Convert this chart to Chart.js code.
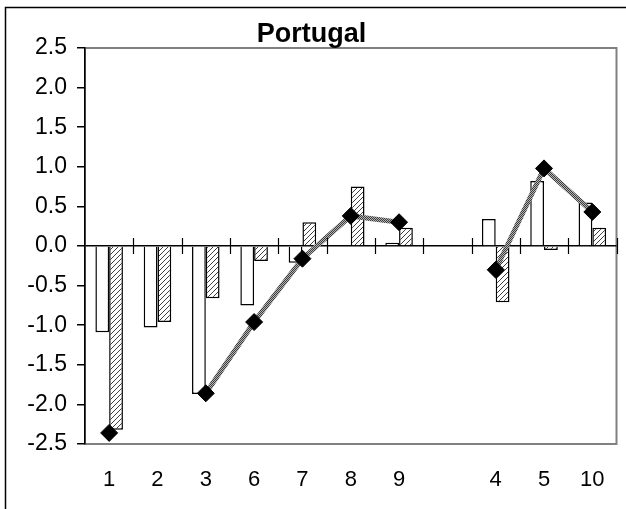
<!DOCTYPE html>
<html>
<head>
<meta charset="utf-8">
<title>Portugal</title>
<script src="https://cdn.jsdelivr.net/npm/chart.js@4.4.0/dist/chart.umd.min.js"></script>
<style>
  body { margin: 0; background: #fff; overflow: hidden; }
  #grafico { display: block; }
</style>
</head>
<body>
<canvas id="grafico" width="626" height="509"></canvas>
<script>
// dados (categoria vazia = espaço entre os grupos)
var categorias = ['1', '2', '3', '6', '7', '8', '9', '', '4', '5', '10'];
var serieBranca = [-1.09, -1.03, -1.87, -0.75, -0.21, null, 0.04, null, 0.34, 0.82, 0.55];
var serieTracejada = [-2.32, -0.96, -0.66, -0.19, 0.30, 0.75, 0.23, null, -0.71, -0.05, 0.23];
var serieLinha = [-2.36, null, -1.86, -0.96, -0.16, 0.38, 0.30, null, -0.30, 0.98, 0.43];
var eixoMin = -2.5;
var eixoMax = 2.5;
var eixoPasso = 0.5;

function padraoTracejado() {
    var c = document.createElement('canvas');
    c.width = 5;
    c.height = 5;
    var g = c.getContext('2d');
    g.fillStyle = '#fff';
    g.fillRect(0, 0, 5, 5);
    g.strokeStyle = '#404040';
    g.lineWidth = 1;
    g.beginPath();
    g.moveTo(0, 5); g.lineTo(5, 0);
    g.moveTo(-1, 1); g.lineTo(1, -1);
    g.moveTo(4, 6); g.lineTo(6, 4);
    g.stroke();
    return g.createPattern(c, 'repeat');
}

function padraoLinha() {
    var c = document.createElement('canvas');
    c.width = 2;
    c.height = 2;
    var g = c.getContext('2d');
    g.fillStyle = '#b4b4b4';
    g.fillRect(0, 0, 2, 2);
    g.fillStyle = '#3c3c3c';
    g.fillRect(0, 0, 1, 1);
    g.fillRect(1, 1, 1, 1);
    return g.createPattern(c, 'repeat');
}

// moldura externa, borda da área do gráfico e tiques do eixo x no zero
var moldura = {
    id: 'moldura',
    beforeDraw: function(chart) {
        var ctx = chart.ctx, a = chart.chartArea;
        ctx.save();
        ctx.fillStyle = '#fff';
        ctx.fillRect(0, 0, chart.width, chart.height);
        ctx.strokeStyle = '#000';
        ctx.lineWidth = 1.5;
        ctx.strokeRect(5.5, 7.5, chart.width + 40, chart.height + 40);
        ctx.strokeStyle = '#808080';
        ctx.lineWidth = 2;
        ctx.strokeRect(a.left, a.top, a.right - a.left, a.bottom - a.top);
        ctx.restore();
    },
    afterDatasetsDraw: function(chart) {
        var ctx = chart.ctx, x = chart.scales.x, y = chart.scales.y;
        var y0 = y.getPixelForValue(0);
        var passo = (x.right - x.left) / categorias.length;
        ctx.save();
        ctx.strokeStyle = '#000';
        ctx.lineWidth = 1.2;
        ctx.beginPath();
        for (var i = 0; i < categorias.length; i++) {
            var px = Math.round(x.getPixelForValue(i) + passo / 2) + 0.5;
            ctx.moveTo(px, y0 - 8);
            ctx.lineTo(px, y0 + 8);
        }
        ctx.stroke();
        ctx.restore();
    }
};

var ctx = document.getElementById('grafico').getContext('2d');
var grafico = new Chart(ctx, {
    data: {
        labels: categorias,
        datasets: [{
            type: 'line',
            data: serieLinha,
            order: 0,
            borderColor: padraoLinha(),
            borderWidth: 5,
            spanGaps: false,
            tension: 0,
            pointStyle: 'rectRot',
            pointRadius: 8.5,
            pointBackgroundColor: '#000',
            pointBorderColor: '#000',
            pointBorderWidth: 1
        }, {
            type: 'bar',
            data: serieBranca,
            order: 1,
            backgroundColor: '#fff',
            borderColor: '#000',
            borderWidth: 1.5,
            categoryPercentage: 0.57,
            barPercentage: 1
        }, {
            type: 'bar',
            data: serieTracejada,
            order: 1,
            backgroundColor: padraoTracejado(),
            borderColor: '#000',
            borderWidth: 1.5,
            categoryPercentage: 0.57,
            barPercentage: 1
        }]
    },
    plugins: [moldura],
    options: {
        responsive: false,
        animation: false,
        layout: { padding: { top: 0, right: 3, bottom: 0, left: 0 } },
        plugins: {
            legend: { display: false },
            tooltip: { enabled: false },
            title: {
                display: true,
                text: 'Portugal',
                color: '#000',
                font: { family: 'Arial, "Liberation Sans"', size: 27, weight: 'bold', lineHeight: 1 },
                padding: { top: 21, bottom: 0 }
            }
        },
        scales: {
            x: {
                type: 'category',
                afterFit: function(s) { s.height = 65; },
                grid: { display: false },
                border: { display: false },
                ticks: {
                    color: '#000',
                    padding: 15,
                    maxRotation: 0,
                    autoSkip: false,
                    font: { family: 'Arial, "Liberation Sans"', size: 22 }
                }
            },
            y: {
                min: eixoMin,
                max: eixoMax,
                afterFit: function(s) { s.width = 85; },
                border: { display: true, color: '#000', width: 1.5 },
                grid: {
                    color: function(c) { return c.tick && c.tick.value === 0 ? '#000' : 'rgba(0,0,0,0)'; },
                    lineWidth: 1.5,
                    tickColor: '#000',
                    tickLength: 8
                },
                ticks: {
                    stepSize: eixoPasso,
                    color: '#000',
                    padding: 10,
                    font: { family: 'Arial, "Liberation Sans"', size: 23 },
                    callback: function(v) { return Number(v).toFixed(1); }
                }
            }
        }
    }
});
</script>
</body>
</html>
